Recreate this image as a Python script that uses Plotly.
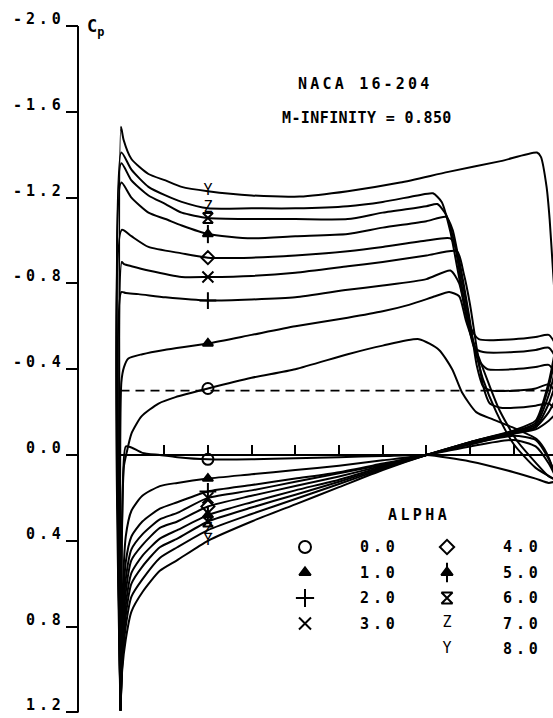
import plotly.graph_objects as go

# ---------------- data ----------------
ALPHA_LABELS = ["0.0", "1.0", "2.0", "3.0", "4.0", "5.0", "6.0", "7.0", "8.0"]

# upper surface (x/c, Cp)
XU_0 = [0.0, 0.003, 0.008, 0.014, 0.025, 0.048, 0.087, 0.126, 0.2, 0.3, 0.4, 0.52, 0.6, 0.683, 0.729, 0.759, 0.782, 0.814, 0.851, 0.89, 0.952, 0.975, 1.0]
CPU_0 = [1.19, 0.35, 0.05, -0.01, -0.10, -0.18, -0.24, -0.27, -0.31, -0.36, -0.40, -0.47, -0.51, -0.54, -0.49, -0.40, -0.29, -0.20, -0.167, -0.135, -0.074, -0.01, 0.12]
XU_1 = [0.0, 0.002, 0.008, 0.018, 0.05, 0.1, 0.2, 0.3, 0.4, 0.52, 0.6, 0.66, 0.72, 0.752, 0.775, 0.79, 0.81, 0.845, 0.867, 0.906, 0.952, 0.98, 1.0]
CPU_1 = [1.19, -0.34, -0.41, -0.45, -0.47, -0.49, -0.52, -0.56, -0.60, -0.64, -0.67, -0.70, -0.74, -0.76, -0.74, -0.63, -0.51, -0.32, -0.21, -0.07, 0.04, 0.10, 0.12]
XU_2 = [0.0, 0.002, 0.012, 0.041, 0.103, 0.2, 0.3, 0.4, 0.52, 0.6, 0.7, 0.755, 0.775, 0.79, 0.81, 0.83, 0.86, 0.9, 0.95, 1.0]
CPU_2 = [1.19, -0.76, -0.755, -0.75, -0.735, -0.72, -0.725, -0.735, -0.77, -0.79, -0.82, -0.86, -0.80, -0.66, -0.50, -0.35, -0.20, -0.05, 0.06, 0.12]
XU_3 = [0.0, 0.003, 0.008, 0.025, 0.064, 0.14, 0.2, 0.3, 0.4, 0.52, 0.6, 0.7, 0.77, 0.785, 0.80, 0.815, 0.83, 0.845, 0.87, 0.9, 0.95, 0.98, 1.0]
CPU_3 = [1.19, -0.90, -0.89, -0.88, -0.86, -0.83, -0.83, -0.835, -0.85, -0.88, -0.90, -0.93, -0.95, -0.85, -0.70, -0.50, -0.32, -0.24, -0.22, -0.22, -0.23, -0.24, -0.20]
XU_4 = [0.0, 0.003, 0.025, 0.064, 0.14, 0.2, 0.3, 0.4, 0.52, 0.6, 0.7, 0.755, 0.77, 0.785, 0.80, 0.815, 0.83, 0.85, 0.9, 0.95, 0.98, 1.0]
CPU_4 = [1.19, -1.05, -1.02, -0.97, -0.94, -0.92, -0.92, -0.93, -0.95, -0.97, -1.00, -1.01, -0.95, -0.80, -0.62, -0.42, -0.32, -0.30, -0.30, -0.31, -0.33, -0.28]
XU_5 = [0.0, 0.002, 0.025, 0.064, 0.103, 0.14, 0.2, 0.3, 0.4, 0.52, 0.6, 0.7, 0.745, 0.76, 0.775, 0.79, 0.805, 0.82, 0.84, 0.9, 0.95, 0.98, 1.0]
CPU_5 = [1.19, -1.27, -1.20, -1.13, -1.10, -1.07, -1.03, -1.01, -1.02, -1.03, -1.06, -1.09, -1.11, -1.05, -0.90, -0.72, -0.55, -0.44, -0.40, -0.40, -0.41, -0.42, -0.36]
XU_6 = [0.0, 0.002, 0.025, 0.064, 0.103, 0.14, 0.2, 0.3, 0.4, 0.52, 0.6, 0.7, 0.725, 0.745, 0.765, 0.78, 0.795, 0.81, 0.83, 0.9, 0.95, 0.98, 1.0]
CPU_6 = [1.19, -1.36, -1.28, -1.21, -1.17, -1.13, -1.105, -1.10, -1.10, -1.10, -1.13, -1.16, -1.17, -1.12, -0.98, -0.80, -0.62, -0.50, -0.48, -0.48, -0.49, -0.50, -0.44]
XU_7 = [0.0, 0.002, 0.025, 0.064, 0.103, 0.14, 0.2, 0.3, 0.4, 0.52, 0.6, 0.68, 0.715, 0.735, 0.755, 0.77, 0.785, 0.80, 0.82, 0.9, 0.95, 0.98, 1.0]
CPU_7 = [1.19, -1.41, -1.33, -1.25, -1.21, -1.18, -1.15, -1.15, -1.15, -1.16, -1.18, -1.21, -1.22, -1.18, -1.04, -0.88, -0.72, -0.60, -0.54, -0.54, -0.55, -0.56, -0.50]
XU_8 = [0.0, 0.001, 0.007, 0.025, 0.064, 0.103, 0.14, 0.2, 0.3, 0.41, 0.52, 0.64, 0.75, 0.87, 0.953, 0.962, 0.975, 0.982, 0.99, 1.0]
CPU_8 = [1.19, -1.53, -1.47, -1.38, -1.31, -1.28, -1.25, -1.23, -1.21, -1.205, -1.23, -1.27, -1.32, -1.37, -1.41, -1.39, -1.25, -1.10, -0.85, -0.55]

# lower surface (x/c, Cp)
XL = [0.0, 0.004, 0.012, 0.025, 0.05, 0.09, 0.13, 0.2, 0.3, 0.4, 0.5, 0.6, 0.7, 0.8, 0.9, 0.95, 0.98, 1.0]
CPL_0 = [1.19, 0.30, -0.04, -0.035, -0.01, 0.0, 0.01, 0.02, 0.02, 0.015, 0.01, 0.005, 0.0, 0.03, 0.08, 0.11, 0.13, 0.12]
CPL_1 = [1.19, 0.70, 0.38, 0.26, 0.19, 0.145, 0.13, 0.11, 0.09, 0.07, 0.05, 0.025, 0.0, -0.04, -0.07, -0.04, 0.04, 0.12]
CPL_2 = [1.19, 0.80, 0.50, 0.38, 0.31, 0.25, 0.22, 0.17, 0.14, 0.11, 0.08, 0.04, 0.0, -0.05, -0.09, -0.07, 0.02, 0.12]
CPL_3 = [1.19, 0.85, 0.58, 0.44, 0.37, 0.30, 0.27, 0.20, 0.165, 0.125, 0.085, 0.045, 0.0, -0.05, -0.10, -0.12, -0.16, -0.20]
CPL_4 = [1.19, 0.90, 0.64, 0.49, 0.42, 0.34, 0.31, 0.24, 0.19, 0.145, 0.10, 0.05, 0.0, -0.055, -0.10, -0.13, -0.20, -0.28]
CPL_5 = [1.19, 0.93, 0.70, 0.55, 0.47, 0.39, 0.35, 0.28, 0.22, 0.165, 0.115, 0.055, 0.0, -0.055, -0.105, -0.13, -0.24, -0.36]
CPL_6 = [1.19, 0.96, 0.75, 0.60, 0.52, 0.43, 0.39, 0.31, 0.245, 0.185, 0.125, 0.06, 0.0, -0.06, -0.11, -0.14, -0.28, -0.44]
CPL_7 = [1.19, 0.98, 0.80, 0.66, 0.58, 0.48, 0.43, 0.35, 0.275, 0.205, 0.135, 0.065, 0.0, -0.06, -0.11, -0.15, -0.32, -0.50]
CPL_8 = [1.19, 1.00, 0.86, 0.73, 0.64, 0.54, 0.49, 0.40, 0.31, 0.23, 0.15, 0.07, 0.0, -0.06, -0.115, -0.16, -0.34, -0.55]

CP_CRIT = -0.30          # sonic pressure coefficient, M = 0.85
MARK_XC = 0.2            # station where symbols are drawn
Y_TICKS = [-2.0, -1.6, -1.2, -0.8, -0.4, 0.0, 0.4, 0.8, 1.2]
Y_TICK_TEXT = ["-2.0", "-1.6", "-1.2", "-0.8", "-0.4", "0.0", "0.4", "0.8", "1.2"]
X_TICKS = [0.1, 0.2, 0.3, 0.4, 0.5, 0.6, 0.7, 0.8, 0.9]
TITLE_1 = "NACA 16-204"
TITLE_2 = "M-INFINITY = 0.850"
LEGEND_TITLE = "ALPHA"

UPPER = [(XU_0, CPU_0), (XU_1, CPU_1), (XU_2, CPU_2), (XU_3, CPU_3), (XU_4, CPU_4),
         (XU_5, CPU_5), (XU_6, CPU_6), (XU_7, CPU_7), (XU_8, CPU_8)]
LOWER = [CPL_0, CPL_1, CPL_2, CPL_3, CPL_4, CPL_5, CPL_6, CPL_7, CPL_8]

# symbol styles per alpha: (kind, value, size); "mm" = two overlaid marker symbols
SYMBOLS = [("m", "circle-open", 11), ("m", "triangle-up", 9), ("m", "cross-thin-open", 12),
           ("m", "x-thin-open", 11), ("m", "diamond-open", 10), ("mm", ("triangle-up", "line-ns-open"), 9),
           ("m", "hourglass-open", 10), ("t", "Z", 15), ("t", "Y", 15)]

# ---------------- geometry (pixel mapping of the picture) ----------------
W, H = 553, 718
X0_PX, X_SCALE = 120.5, 437.0
Y0_PX, Y_SCALE = 455.0, 214.5
xr = [-X0_PX / X_SCALE, (W - X0_PX) / X_SCALE]
yr = [(H - Y0_PX) / Y_SCALE, -Y0_PX / Y_SCALE]
FONT = "DejaVu Sans Mono"
FS = 15
INK = "black"


def plotter(text, ls):
    """bold text with extra letter spacing (plotter lettering)"""
    return f'<b><span style="letter-spacing:{ls}px">{text}</span></b>'


def add_symbol(xs, ys, i, extra=0, **axes):
    kind, val, size = SYMBOLS[i]
    if kind == "t":
        fig.add_trace(go.Scatter(x=xs, y=ys, mode="text", text=[val] * len(xs), textposition="middle center",
                                 textfont=dict(family=FONT, size=size, color=INK),
                                 hoverinfo="skip", showlegend=False, **axes))
        return
    names = [val] if kind == "m" else list(val)
    for k, name in enumerate(names):
        sz = size + extra + (4 * k)
        fig.add_trace(go.Scatter(x=xs, y=ys, mode="markers",
                                 marker=dict(symbol=name, size=sz, color=INK, line=dict(color=INK, width=2)),
                                 hoverinfo="skip", showlegend=False, **axes))


fig = go.Figure()

for (xu, cu), cl in zip(UPPER, LOWER):
    fig.add_trace(go.Scatter(x=xu, y=cu, mode="lines", line=dict(color=INK, width=2, shape="spline", smoothing=0.6),
                             hoverinfo="skip", showlegend=False))
    fig.add_trace(go.Scatter(x=XL, y=cl, mode="lines", line=dict(color=INK, width=2, shape="spline", smoothing=0.6),
                             hoverinfo="skip", showlegend=False))

# symbols at x/c = 0.2 on both surfaces
for i, ((xu, cu), cl) in enumerate(zip(UPPER, LOWER)):
    ys = [cu[xu.index(MARK_XC)], cl[XL.index(MARK_XC)]]
    add_symbol([MARK_XC, MARK_XC], ys, i)

# ---------------- legend (symbols on a pixel-space overlay axis) ----------------
LEG_COL_SYM = [305, 447]
LEG_COL_VAL = [377, 520]
LEG_ROW0, LEG_DY = 547, 25.5
ann = []
for i, lab in enumerate(ALPHA_LABELS):
    col = 0 if i < 4 else 1
    row = i if i < 4 else i - 4
    sx, vy = LEG_COL_SYM[col], LEG_ROW0 + row * LEG_DY
    add_symbol([sx], [vy], i, extra=1, xaxis="x2", yaxis="y2")
    ann.append(dict(x=(LEG_COL_VAL[col] + 2) / W, y=1 - vy / H, xref="paper", yref="paper",
                    text=plotter(lab, 3.9), showarrow=False, font=dict(family=FONT, size=FS, color=INK),
                    xanchor="center", yanchor="middle"))

ann.append(dict(x=(417 + 2) / W, y=1 - 515 / H, xref="paper", yref="paper", text=plotter(LEGEND_TITLE, 3.4),
                showarrow=False, font=dict(family=FONT, size=FS, color=INK), xanchor="center", yanchor="middle"))
ann.append(dict(x=(363 + 2) / W, y=1 - 84 / H, xref="paper", yref="paper", text=plotter(TITLE_1, 3.2),
                showarrow=False, font=dict(family=FONT, size=FS, color=INK), xanchor="center", yanchor="middle"))
ann.append(dict(x=367 / W, y=1 - 118 / H, xref="paper", yref="paper", text=plotter(TITLE_2, 0.4),
                showarrow=False, font=dict(family=FONT, size=FS, color=INK), xanchor="center", yanchor="middle"))
ann.append(dict(x=85 / W, y=1 - 28 / H, xref="paper", yref="paper", text="<b>C<sub>p</sub></b>", showarrow=False,
                font=dict(family=FONT, size=17, color=INK), xanchor="left", yanchor="middle"))
for v, t in zip(Y_TICKS, Y_TICK_TEXT):
    ann.append(dict(x=(63 + 3.9) / W, y=v, xref="paper", yref="y", text=plotter(t, 3.9), showarrow=False,
                    font=dict(family=FONT, size=FS, color=INK), xanchor="right", yanchor="bottom", yshift=-4))

shapes = [
    dict(type="line", xref="paper", yref="y", x0=78 / W, x1=78 / W, y0=Y_TICKS[0], y1=Y_TICKS[-1],
         line=dict(color=INK, width=2)),
    dict(type="line", xref="x", yref="y", x0=0.0, x1=1.0, y0=0.0, y1=0.0, line=dict(color=INK, width=2.2)),
    dict(type="line", xref="x", yref="y", x0=0.0, x1=1.0, y0=CP_CRIT, y1=CP_CRIT,
         line=dict(color=INK, width=1.7, dash="9px,6px")),
]

fig.update_layout(
    width=W, height=H, margin=dict(l=0, r=0, t=0, b=0),
    paper_bgcolor="white", plot_bgcolor="white", showlegend=False, hovermode=False,
    xaxis=dict(range=xr, showgrid=False, zeroline=False, showline=False, showticklabels=False,
               anchor="free", position=(H - Y0_PX) / H, ticks="inside", ticklen=10, tickwidth=1.7,
               tickcolor=INK, tickvals=X_TICKS),
    yaxis=dict(range=yr, showgrid=False, zeroline=False, showline=False, showticklabels=False,
               anchor="free", position=78 / W, ticks="outside", ticklen=12, tickwidth=1.7,
               tickcolor=INK, tickvals=Y_TICKS),
    xaxis2=dict(range=[0, W], overlaying="x", visible=False, anchor="y2"),
    yaxis2=dict(range=[H, 0], overlaying="y", visible=False, anchor="x2"),
    annotations=ann, shapes=shapes,
)

fig.write_html("out.html")
